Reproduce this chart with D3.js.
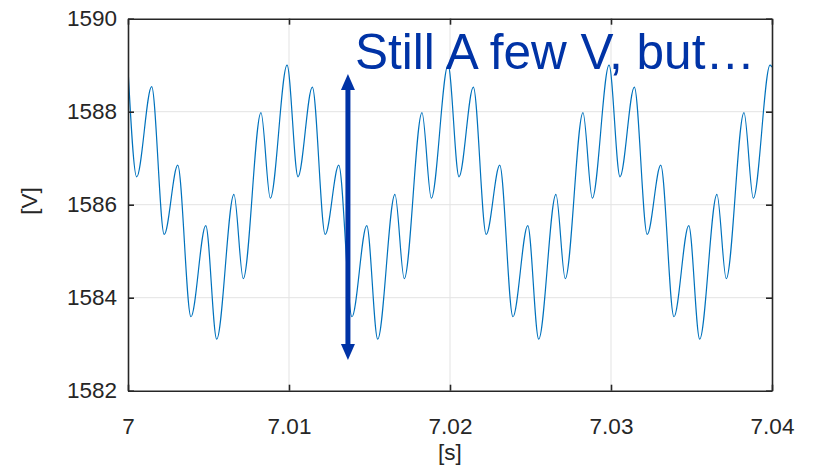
<!DOCTYPE html>
<html>
<head>
<meta charset="utf-8">
<script src="https://cdn.jsdelivr.net/npm/d3@7"></script>
<style>
  html, body { margin: 0; padding: 0; background: #fff; }
  svg { display: block; font-family: "Liberation Sans", Arial, Helvetica, sans-serif; }
</style>
</head>
<body>
<svg id="chart" width="815" height="466"></svg>
<script>
// Extrema of the voltage waveform (time [s], voltage [V])
const times = [
  7.00000, 7.00054, 7.00147, 7.00225, 7.00309, 7.00391, 7.00483, 7.00551, 7.00658, 7.00716, 7.00826, 7.00884,
  7.00988, 7.01056, 7.01145, 7.01225, 7.01309, 7.01391, 7.01483, 7.01551, 7.01658, 7.01716, 7.01826, 7.01884,
  7.01988, 7.02056, 7.02145, 7.02225, 7.02309, 7.02391, 7.02483, 7.02551, 7.02658, 7.02716, 7.02826, 7.02884,
  7.02988, 7.03056, 7.03145, 7.03225, 7.03309, 7.03391, 7.03483, 7.03551, 7.03658, 7.03716, 7.03826, 7.03884,
  7.03988, 7.04000
];
const volts = [
  1588.93, 1586.60, 1588.54, 1585.36, 1586.85, 1583.59, 1585.55, 1583.11, 1586.22, 1584.41, 1587.98, 1586.14,
  1589.00, 1586.60, 1588.53, 1585.36, 1586.85, 1583.59, 1585.55, 1583.11, 1586.22, 1584.41, 1587.98, 1586.14,
  1589.00, 1586.60, 1588.53, 1585.36, 1586.85, 1583.59, 1585.55, 1583.11, 1586.22, 1584.41, 1587.98, 1586.14,
  1589.00, 1586.60, 1588.53, 1585.36, 1586.85, 1583.59, 1585.55, 1583.11, 1586.22, 1584.41, 1587.98, 1586.14,
  1589.00, 1588.96
];
const xTicks = [7, 7.01, 7.02, 7.03, 7.04];
const xTickLabels = ["7", "7.01", "7.02", "7.03", "7.04"];
const yTicks = [1582, 1584, 1586, 1588, 1590];
const yTickLabels = ["1582", "1584", "1586", "1588", "1590"];
const xLabel = "[s]";
const yLabel = "[V]";
const noteText = "Still A few V, but\u2026";
const arrowT = [7.01366];
const arrowV = [1588.81, 1582.66];

const svg = d3.select("#chart");
const L = 128, R = 772, T = 18.7, B = 390.7;
const x = d3.scaleLinear().domain([7, 7.04]).range([L, R]);
const y = d3.scaleLinear().domain([1582, 1590]).range([B, T]);
const axisColor = "#262626";
const gridColor = "#e3e3e3";
const fontSize = 22.5;

// grid
const g = svg.append("g");
g.selectAll(".gx").data(xTicks.slice(1, -1)).enter().append("line")
  .attr("x1", d => x(d)).attr("x2", d => x(d)).attr("y1", T).attr("y2", B)
  .attr("stroke", gridColor).attr("stroke-width", 1);
g.selectAll(".gy").data(yTicks.slice(1, -1)).enter().append("line")
  .attr("y1", d => y(d)).attr("y2", d => y(d)).attr("x1", L).attr("x2", R)
  .attr("stroke", gridColor).attr("stroke-width", 1);

// data line
const data = times.map((t, i) => ({ t, v: volts[i] }));
const line = d3.line().x(d => x(d.t)).y(d => y(d.v)).curve(d3.curveMonotoneX);
svg.append("defs").append("clipPath").attr("id", "clip")
  .append("rect").attr("x", L).attr("y", T).attr("width", R - L).attr("height", B - T);
svg.append("path").datum(data).attr("d", line)
  .attr("fill", "none").attr("stroke", "#0072BD").attr("stroke-width", 1.2)
  .attr("clip-path", "url(#clip)");

// axes (box with inward ticks)
const fmtX = (d, i) => xTickLabels[i];
const fmtY = (d, i) => yTickLabels[i];
const ax = [
  svg.append("g").attr("transform", `translate(0,${B})`).call(d3.axisBottom(x).tickValues(xTicks).tickFormat(fmtX).tickSizeInner(-6).tickSizeOuter(0).tickPadding(27)),
  svg.append("g").attr("transform", `translate(0,${T})`).call(d3.axisTop(x).tickValues(xTicks).tickFormat("").tickSizeInner(-6).tickSizeOuter(0)),
  svg.append("g").attr("transform", `translate(${L},0)`).call(d3.axisLeft(y).tickValues(yTicks).tickFormat(fmtY).tickSizeInner(-6).tickSizeOuter(0).tickPadding(11)),
  svg.append("g").attr("transform", `translate(${R},0)`).call(d3.axisRight(y).tickValues(yTicks).tickFormat("").tickSizeInner(-6).tickSizeOuter(0))
];
ax.forEach(a => {
  a.select(".domain").attr("stroke", axisColor).attr("stroke-width", 1.6);
  a.selectAll(".tick line").attr("stroke", axisColor).attr("stroke-width", 1.6);
  a.selectAll(".tick text").attr("fill", axisColor).attr("font-size", fontSize)
    .attr("font-family", "'Liberation Sans', Arial, sans-serif");
});

// axis labels
svg.append("text").attr("x", (L + R) / 2).attr("y", 460).attr("text-anchor", "middle")
  .attr("font-size", fontSize).attr("fill", axisColor).text(xLabel);
svg.append("text").attr("transform", `translate(37,201) rotate(-90)`)
  .attr("text-anchor", "middle").attr("font-size", fontSize).attr("fill", axisColor).text(yLabel);

// annotation arrow
const annColor = "#0033A6";
const ax0 = x(arrowT[0]);
const yTop = y(arrowV[0]), yBot = y(arrowV[1]);
const headL = 16, headW = 7;
svg.append("line").attr("x1", ax0).attr("x2", ax0).attr("y1", yTop + headL - 1).attr("y2", yBot - headL + 1)
  .attr("stroke", annColor).attr("stroke-width", 5);
svg.append("path").attr("fill", annColor)
  .attr("d", `M${ax0},${yTop} L${ax0 - headW},${yTop + headL} L${ax0 + headW},${yTop + headL} Z`);
svg.append("path").attr("fill", annColor)
  .attr("d", `M${ax0},${yBot} L${ax0 - headW},${yBot - headL} L${ax0 + headW},${yBot - headL} Z`);

svg.append("text").attr("x", 355).attr("y", 69).attr("font-size", 49.5)
  .attr("fill", annColor).attr("font-family", "'Liberation Sans', Arial, sans-serif")
  .text(noteText);
</script>
</body>
</html>
